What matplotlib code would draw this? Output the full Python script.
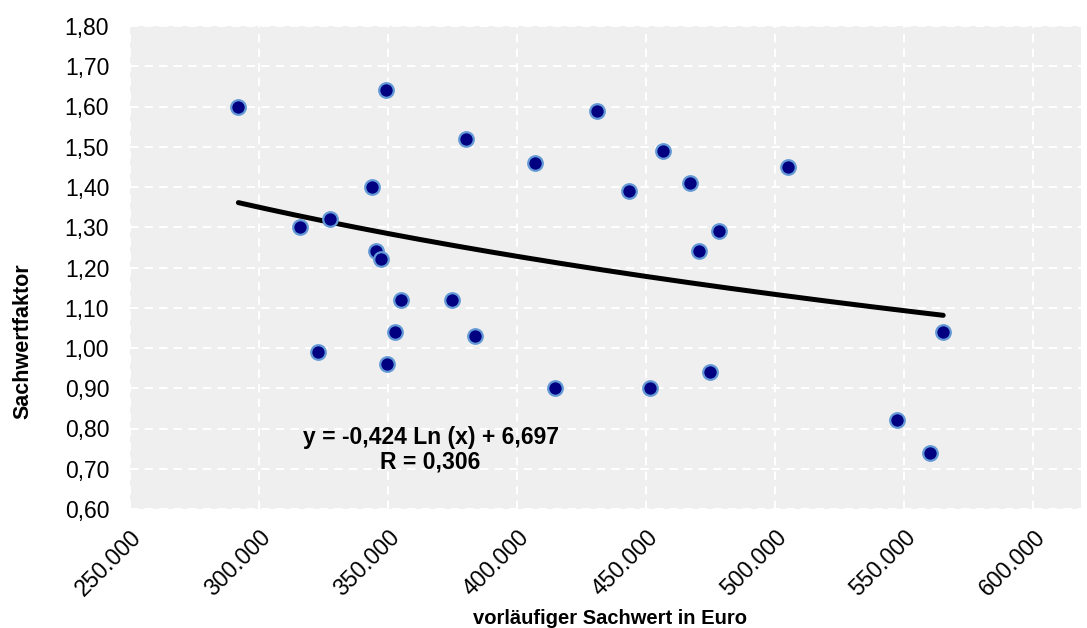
import numpy as np
import matplotlib
matplotlib.use("Agg")
import matplotlib.pyplot as plt
from matplotlib.ticker import FuncFormatter

plt.rcParams['font.family'] = ['Liberation Sans', 'DejaVu Sans']

sachwert = [292000, 315900, 327500, 322900, 343800, 345300, 347300, 349200, 349600,
            355000, 352700, 374800, 380200, 383700, 407000, 414700, 431000, 443400,
            451600, 456600, 467100, 470500, 474800, 478300, 505000, 547300, 560000, 565100]
faktor = [1.60, 1.30, 1.32, 0.99, 1.40, 1.24, 1.22, 1.64, 0.96,
          1.12, 1.04, 1.12, 1.52, 1.03, 1.46, 0.90, 1.59, 1.39,
          0.90, 1.49, 1.41, 1.24, 0.94, 1.29, 1.45, 0.82, 0.74, 1.04]
coef_a = -0.424
coef_b = 6.697
eq_text = "y = -0,424 Ln (x) + 6,697\nR = 0,306"
x_ticks = [250000, 300000, 350000, 400000, 450000, 500000, 550000, 600000]
y_ticks = [0.6, 0.7, 0.8, 0.9, 1.0, 1.1, 1.2, 1.3, 1.4, 1.5, 1.6, 1.7, 1.8]

fig = plt.figure(figsize=(10.87, 6.28), dpi=100)
ax = fig.add_axes([130/1087, (628-509)/628, (1081-130)/1087, (509-26)/628])
ax.set_facecolor('#efefef')
for s in ax.spines.values():
    s.set_visible(False)

ax.set_xlim(250000, 618500)
ax.set_ylim(0.6, 1.8)
ax.set_xticks(x_ticks)
ax.set_yticks(y_ticks)
ax.grid(True, color='white', linestyle=(0, (4, 3)), linewidth=1.5)
ax.set_axisbelow(True)
ax.tick_params(length=0, labelsize=16.5, colors='black')
ax.tick_params(axis='y', pad=15)
ax.tick_params(axis='x', pad=12)

ax.xaxis.set_major_formatter(FuncFormatter(lambda v, p: f"{int(v):,}".replace(",", ".")))
ax.yaxis.set_major_formatter(FuncFormatter(lambda v, p: f"{v:.2f}".replace(".", ",")))
for lbl in ax.get_xticklabels():
    lbl.set_rotation(45)
    lbl.set_ha('right')
    lbl.set_rotation_mode('anchor')

xs = np.linspace(min(sachwert), max(sachwert), 200)
ax.plot(xs, coef_a * np.log(xs) + coef_b, color='black', linewidth=3.6,
        solid_capstyle='round', zorder=2)
ax.scatter(sachwert, faktor, s=110, color='#000080', edgecolors='#6399d6',
           linewidths=1.6, zorder=3)

ax.text(366500, 0.747, eq_text, ha='center', va='center', fontsize=16.5,
        fontweight='bold', linespacing=1.05)

ax.set_xlabel("vorläufiger Sachwert in Euro", fontsize=14.5, fontweight='bold')
ax.set_ylabel("Sachwertfaktor", fontsize=15.5, fontweight='bold')
ax.xaxis.set_label_coords((610-130)/951, -(609-509)/483)
ax.yaxis.set_label_coords(-(130-33)/951, (509-341)/483)

fig.savefig("out.png", dpi=100)
